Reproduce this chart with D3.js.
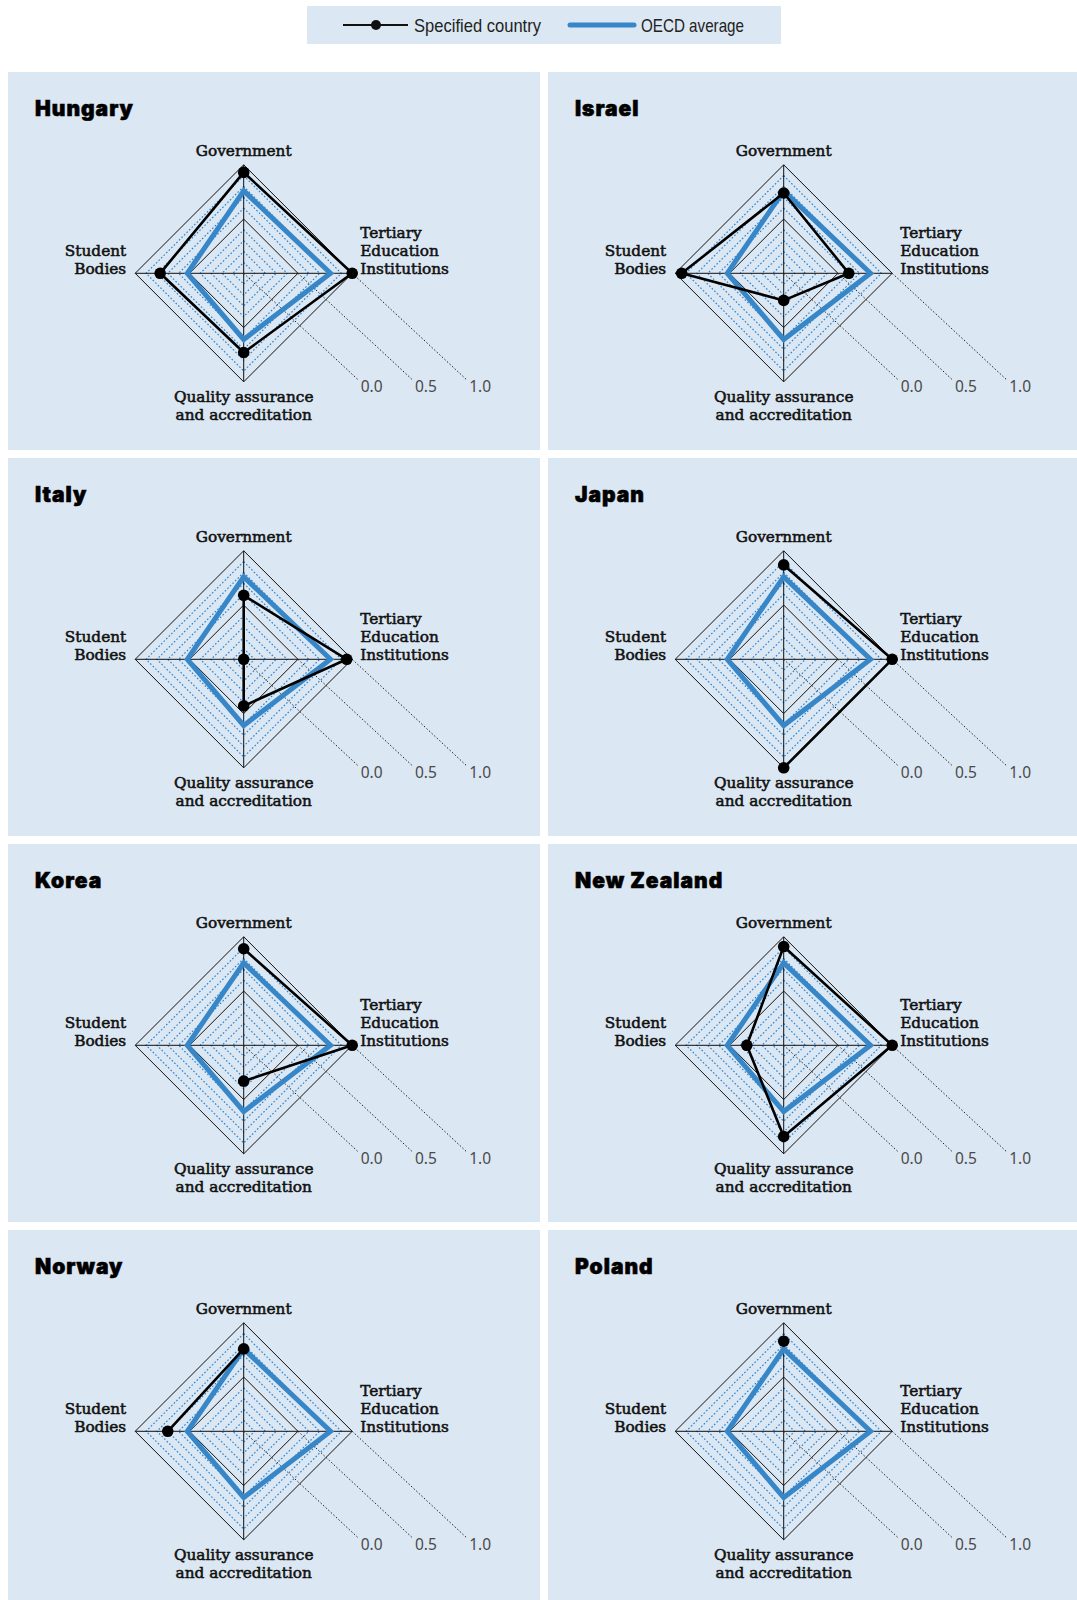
<!DOCTYPE html>
<html>
<head>
<meta charset="utf-8">
<script src="https://cdn.jsdelivr.net/npm/d3@7"></script>
<style>
  body { margin: 0; background: #ffffff; }
  svg { display: block; }
</style>
</head>
<body>
<svg id="chart" width="1077" height="1600"></svg>
<script>
// Four governance dimensions, clockwise from the top of each diamond
const dimensions = ["Government", "Tertiary Education Institutions", "Quality assurance and accreditation", "Student Bodies"];
const dimensionLabelLines = [
  ["Government"],
  ["Tertiary", "Education", "Institutions"],
  ["Quality assurance", "and accreditation"],
  ["Student", "Bodies"]
];

// Index values per country, in the same order as `dimensions` (null = no data)
const countries = ["Hungary", "Israel", "Italy", "Japan", "Korea", "New Zealand", "Norway", "Poland"];
const hungaryValues     = [0.93, 1.00, 0.73, 0.77];
const israelValues      = [0.74, 0.60, 0.25, 0.94];
const italyValues       = [0.59, 0.95, 0.43, 0.00];
const japanValues       = [0.87, 1.00, 1.00, null];
const koreaValues       = [0.89, 1.00, 0.33, null];
const newZealandValues  = [0.91, 1.00, 0.84, 0.34];
const norwayValues      = [0.76, null, null, 0.70];
const polandValues      = [0.83, null, null, null];
const oecdAverage       = [0.76, 0.80, 0.61, 0.52];

const countryValues = [hungaryValues, israelValues, italyValues, japanValues,
                       koreaValues, newZealandValues, norwayValues, polandValues];

// Grid rings and scale annotations
const gridLevels = [0.1, 0.2, 0.3, 0.4, 0.5, 0.6, 0.7, 0.8, 0.9, 1.0];
const solidLevels = [0.5, 1.0];
const scaleTicks = [0.0, 0.5, 1.0];

// ---- layout & style ----
const PANEL_BG = "#dbe7f2";
const OECD_BLUE = "#3787c8";
const GRID_BLUE = "#2a84d4";
const panelW = 532, panelH = 378;
const colX = [8, 548];
const rowY = [72, 458, 844, 1230];
const centerOffset = { x: 235.7, y: 201.3 };
const R = 108.5;
const narrowFont = "'Liberation Sans Narrow', 'Arial Narrow', 'Liberation Sans', sans-serif";

const svg = d3.select("#chart");

const r = d3.scaleLinear().domain([0, 1]).range([0, R]);
const angle = d3.scaleLinear().domain([0, dimensions.length]).range([0, 2 * Math.PI]);

const ringLine = d3.lineRadial()
  .angle((d, i) => angle(i))
  .radius(d => r(d))
  .curve(d3.curveLinearClosed);

const polyLine = d3.lineRadial()
  .defined(d => d.value != null)
  .angle(d => angle(d.index))
  .radius(d => r(d.value));

function pointXY(index, value) {
  const a = angle(index);
  return [r(value) * Math.sin(a), -r(value) * Math.cos(a)];
}

// ---- legend ----
const legend = svg.append("g").attr("class", "legend");
legend.append("rect")
  .attr("x", 307).attr("y", 6).attr("width", 474).attr("height", 38)
  .attr("fill", PANEL_BG);
legend.append("line")
  .attr("x1", 343).attr("x2", 408).attr("y1", 25).attr("y2", 25)
  .attr("stroke", "#111").attr("stroke-width", 2.2);
legend.append("circle")
  .attr("cx", 376).attr("cy", 25).attr("r", 5).attr("fill", "#111");
legend.append("text")
  .attr("x", 414).attr("y", 32)
  .attr("font-family", narrowFont)
  .attr("font-size", 19).attr("fill", "#222")
  .attr("textLength", 127).attr("lengthAdjust", "spacingAndGlyphs")
  .text("Specified country");
legend.append("line")
  .attr("x1", 570).attr("x2", 634).attr("y1", 25).attr("y2", 25)
  .attr("stroke", OECD_BLUE).attr("stroke-width", 5).attr("stroke-linecap", "round");
legend.append("text")
  .attr("x", 641).attr("y", 32)
  .attr("font-family", narrowFont)
  .attr("font-size", 19).attr("fill", "#222")
  .attr("textLength", 103).attr("lengthAdjust", "spacingAndGlyphs")
  .text("OECD average");

// ---- panels ----
countries.forEach((country, ci) => {
  const px = colX[ci % 2];
  const py = rowY[Math.floor(ci / 2)];
  const panel = svg.append("g").attr("transform", `translate(${px},${py})`);

  panel.append("rect")
    .attr("width", panelW).attr("height", panelH)
    .attr("fill", PANEL_BG);

  panel.append("text")
    .attr("x", 27).attr("y", 44)
    .attr("font-family", "Inter, Roboto, 'Liberation Sans', sans-serif")
    .attr("font-weight", 900).attr("font-size", 21)
    .attr("letter-spacing", 1)
    .attr("fill", "#000")
    .attr("stroke", "#000").attr("stroke-width", 0.6)
    .text(country);

  const g = panel.append("g")
    .attr("transform", `translate(${centerOffset.x},${centerOffset.y})`);

  // dotted blue rings
  g.selectAll("path.ring-dotted")
    .data(gridLevels.filter(l => !solidLevels.includes(l)))
    .join("path")
    .attr("class", "ring-dotted")
    .attr("d", l => ringLine(dimensions.map(() => l)))
    .attr("fill", "none")
    .attr("stroke", GRID_BLUE)
    .attr("stroke-width", 1.2)
    .attr("stroke-dasharray", "1.6,2");

  // solid rings
  g.selectAll("path.ring-solid")
    .data(solidLevels)
    .join("path")
    .attr("class", "ring-solid")
    .attr("d", l => ringLine(dimensions.map(() => l)))
    .attr("fill", "none")
    .attr("stroke", "#111")
    .attr("stroke-width", 1);

  // spokes
  g.selectAll("line.spoke")
    .data(dimensions)
    .join("line")
    .attr("class", "spoke")
    .attr("x1", 0).attr("y1", 0)
    .attr("x2", (d, i) => pointXY(i, 1)[0])
    .attr("y2", (d, i) => pointXY(i, 1)[1])
    .attr("stroke", "#111")
    .attr("stroke-width", 1);

  // scale leaders with their values
  const leaders = g.selectAll("g.leader")
    .data(scaleTicks)
    .join("g")
    .attr("class", "leader");
  leaders.append("line")
    .attr("x1", t => r(t)).attr("y1", 0)
    .attr("x2", t => r(t) + 115).attr("y2", 107)
    .attr("stroke", "#222")
    .attr("stroke-width", 1)
    .attr("stroke-dasharray", "1.5,2");
  leaders.append("text")
    .attr("x", t => r(t) + 117).attr("y", 118.5)
    .attr("font-family", "'Noto Sans', 'Open Sans', sans-serif")
    .attr("font-size", 15.5).attr("fill", "#4a4a4a")
    .text(t => d3.format(".1f")(t));

  // OECD average polygon
  g.append("path")
    .attr("d", ringLine(oecdAverage))
    .attr("fill", "none")
    .attr("stroke", OECD_BLUE)
    .attr("stroke-width", 5)
    .attr("stroke-linejoin", "miter");

  // country polygon (closed loop, broken where data is missing)
  const vals = countryValues[ci];
  const loop = vals.map((v, i) => ({ index: i, value: v }));
  loop.push({ index: vals.length, value: vals[0] });
  g.append("path")
    .attr("d", polyLine(loop))
    .attr("fill", "none")
    .attr("stroke", "#000")
    .attr("stroke-width", 2.6)
    .attr("stroke-linejoin", "round");

  g.selectAll("circle.pt")
    .data(vals.map((v, i) => ({ index: i, value: v })).filter(d => d.value != null))
    .join("circle")
    .attr("class", "pt")
    .attr("cx", d => pointXY(d.index, d.value)[0])
    .attr("cy", d => pointXY(d.index, d.value)[1])
    .attr("r", 5.8)
    .attr("fill", "#000");

  // dimension labels
  const labelFont = "'DejaVu Serif', 'Liberation Serif', serif";
  const lineH = 18.2;
  const labelSpecs = [
    { x: 0, y: -R - 9, anchor: "middle", firstDy: 0 },
    { x: R + 8, y: 1, anchor: "start", firstDy: -2 * lineH },
    { x: 0, y: 128.5, anchor: "middle", firstDy: 0 },
    { x: -R - 9, y: 1, anchor: "end", firstDy: -lineH }
  ];
  dimensionLabelLines.forEach((lines, i) => {
    const s = labelSpecs[i];
    const t = g.append("text")
      .attr("x", s.x).attr("y", s.y)
      .attr("text-anchor", s.anchor)
      .attr("font-family", labelFont)
      .attr("font-size", 15.3)
      .attr("fill", "#111")
      .attr("stroke", "#111").attr("stroke-width", 0.55);
    lines.forEach((ln, j) => {
      t.append("tspan")
        .attr("x", s.x)
        .attr("dy", j === 0 ? s.firstDy : lineH)
        .text(ln);
    });
  });
});
</script>
</body>
</html>
